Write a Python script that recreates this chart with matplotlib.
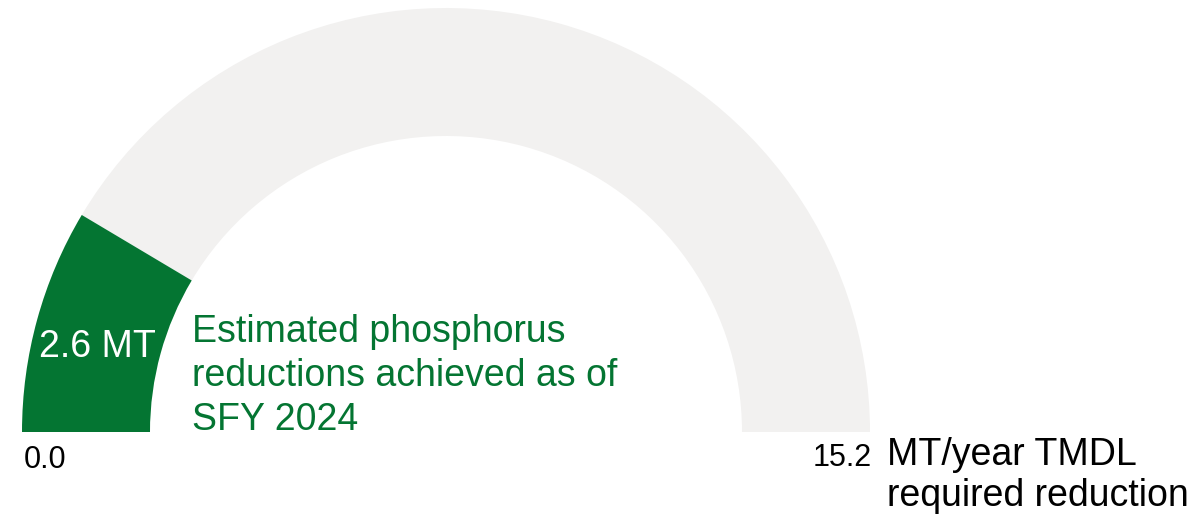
import matplotlib
matplotlib.use("Agg")
import matplotlib.pyplot as plt
from matplotlib.patches import Wedge

plt.rcParams['font.family'] = ['Liberation Sans', 'DejaVu Sans']

# Data
achieved = 2.6
required = 15.2
min_label = "0.0"
max_label = "15.2"
value_label = "2.6 MT"
achieved_lines = ["Estimated phosphorus", "reductions achieved as of", "SFY 2024"]
required_lines = ["MT/year TMDL", "required reduction"]

GREEN = "#047532"
GRAY = "#F2F1F0"

W, H = 1189, 518
fig = plt.figure(figsize=(W / 100, H / 100), dpi=100)
ax = fig.add_axes([0, 0, 1, 1])
ax.set_xlim(0, W)
ax.set_ylim(0, H)
ax.set_aspect('equal')
ax.axis('off')

cx, cy = 446, H - 432
r_out, r_in = 424, 296
width = r_out - r_in

split = 180 * (1 - achieved / required)
ax.add_patch(Wedge((cx, cy), r_out, 0, split, width=width, facecolor=GRAY, edgecolor='none'))
ax.add_patch(Wedge((cx, cy), r_out, split, 180, width=width, facecolor=GREEN, edgecolor='none'))

fs_big = 27
fs_num = 22

ax.text(97, H - 357, value_label, color='white', fontsize=fs_big, ha='center', va='baseline')

for i, line in enumerate(achieved_lines):
    ax.text(192, H - (342 + 44 * i), line, color=GREEN, fontsize=fs_big, ha='left', va='baseline')

ax.text(24, H - 468, min_label, color='black', fontsize=fs_num, ha='left', va='baseline')
ax.text(872, H - 466, max_label, color='black', fontsize=fs_num, ha='right', va='baseline')

for i, line in enumerate(required_lines):
    ax.text(887, H - (465 + 41 * i), line, color='black', fontsize=fs_big, ha='left', va='baseline')

fig.savefig("out.png", dpi=100, facecolor='white')
